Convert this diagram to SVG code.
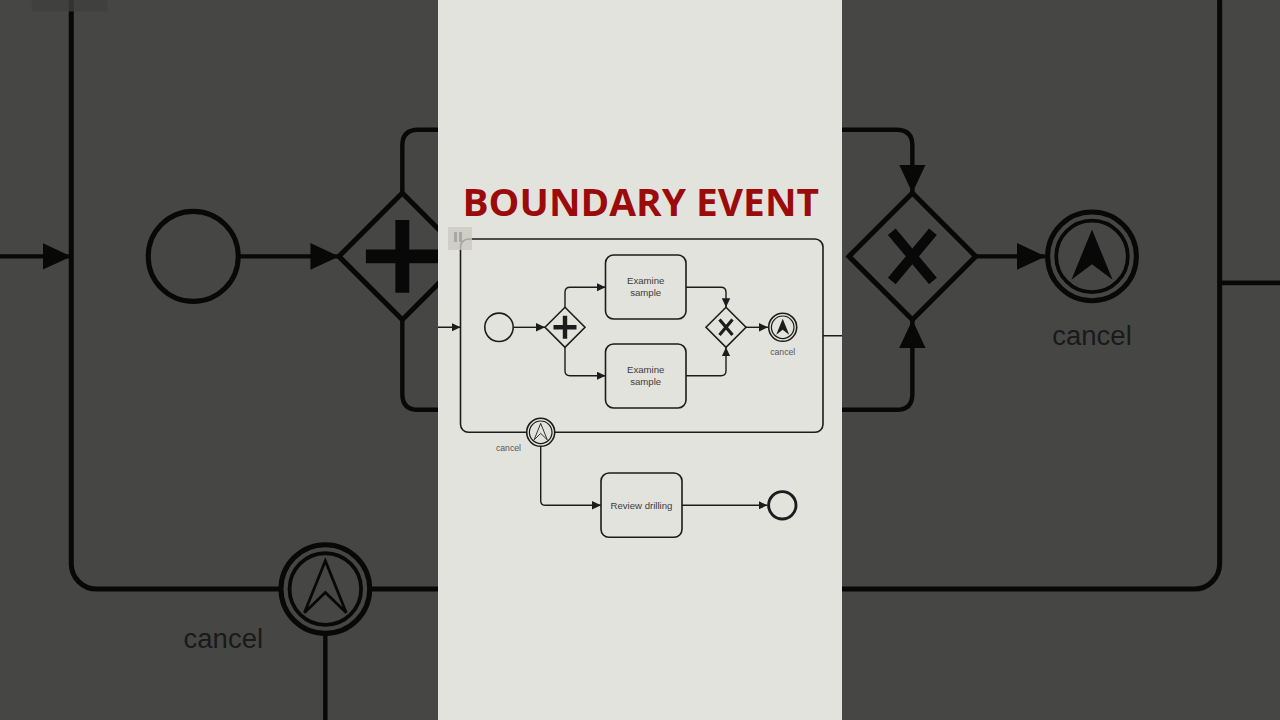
<svg xmlns="http://www.w3.org/2000/svg" xmlns:xlink="http://www.w3.org/1999/xlink" width="1280" height="720" viewBox="0 0 1280 720">
<style>
.ln{fill:none;stroke:#1c1c1c;stroke-width:1.5}
.cn{fill:none;stroke:#1c1c1c;stroke-width:1.4;marker-end:url(#arr)}
.sh{fill:#e3e3de;stroke:#1c1c1c;stroke-width:1.6}
.tl{font-family:"Liberation Sans",Arial,sans-serif;font-size:9.6px;fill:#3c3c3c;text-anchor:middle}
.lb{font-family:"Liberation Sans",Arial,sans-serif;font-size:8.7px;fill:#555;text-anchor:middle}
</style>
<defs>
<marker id="arr" markerUnits="userSpaceOnUse" markerWidth="11" markerHeight="10" refX="9" refY="4.2" orient="auto">
<path d="M0,0 L9,4.2 L0,8.4 Z" fill="#1c1c1c"/>
</marker>
<clipPath id="panel"><rect x="438" y="0" width="404" height="720"/></clipPath>
</defs>
<rect x="0" y="0" width="1280" height="720" fill="#e3e3de"/>
<use xlink:href="#diagram" href="#diagram" transform="matrix(3.168,0,0,3.168,-1387.6,-780.5)"/>
<rect x="0" y="0" width="1280" height="720" fill="#000" opacity="0.69"/>
<rect x="438" y="0" width="404" height="720" fill="#e3e3de"/>
<text x="462.5" y="215.7" textLength="356.5" lengthAdjust="spacingAndGlyphs" font-family="'Open Sans','Liberation Sans',sans-serif" font-weight="bold" font-size="38" fill="#9b0b0b">BOUNDARY EVENT</text>
<g clip-path="url(#panel)">
<g id="diagram">
<g id="subprocess"><rect class="sh" x="460.5" y="239" width="362.5" height="193.3" rx="8"/></g>
<g id="toolicon"><rect x="448" y="227" width="24" height="23" fill="#c9c9c0" opacity="0.8"/><rect x="454" y="232" width="3" height="10" fill="#a9a9a0"/><rect x="459" y="232" width="3" height="10" fill="#a9a9a0"/></g>
<g id="connectors">
<path class="cn" d="M420,327.3 H460.5"/>
<path class="ln" d="M823,335.7 H900"/>
<path class="cn" d="M513.5,327.3 H545"/>
<path class="cn" d="M565,307.3 V292.3 Q565,287.3 570,287.3 H605.5"/>
<path class="cn" d="M565,347.3 V370.7 Q565,375.7 570,375.7 H605.5"/>
<path class="cn" d="M686,287.3 H721 Q726,287.3 726,292.3 V307.3"/>
<path class="cn" d="M686,375.7 H721 Q726,375.7 726,370.7 V347.3"/>
<path class="cn" d="M746,327.3 H768"/>
<path class="cn" d="M540.7,447 V500.7 Q540.7,505.3 545.7,505.3 H601"/>
<path class="cn" d="M682,505.3 H767.5"/>
</g>
<g id="start"><circle class="sh" cx="499" cy="327.3" r="14.2" stroke-width="1.5"/></g>
<g id="fork"><path class="sh" d="M565,307.3 L585,327.3 L565,347.3 L545,327.3 Z"/><path d="M553.5,327.3 H576.5 M565,315.8 V338.8" stroke="#1c1c1c" stroke-width="4.4" fill="none"/></g>
<g id="task1"><rect class="sh" x="605.5" y="255" width="80.5" height="64" rx="8"/><text class="tl" x="645.7" y="284.4">Examine</text><text class="tl" x="645.7" y="295.8">sample</text></g>
<g id="task2"><rect class="sh" x="605.5" y="344" width="80.5" height="64" rx="8"/><text class="tl" x="645.7" y="373.4">Examine</text><text class="tl" x="645.7" y="384.8">sample</text></g>
<g id="join"><path class="sh" d="M726,307.3 L746,327.3 L726,347.3 L706,327.3 Z"/><path d="M719.5,319.5 L732.5,335.1 M732.5,319.5 L719.5,335.1" stroke="#1c1c1c" stroke-width="3.2" fill="none"/></g>
<g id="endcancel"><circle class="sh" cx="782.7" cy="327.3" r="14" stroke-width="1.3"/><circle cx="782.7" cy="327.3" r="11.3" fill="none" stroke="#1c1c1c" stroke-width="1.2"/><path d="M782.7,318.8 L789.2,334.7 L782.7,329.8 L776.2,334.7 Z" fill="#1c1c1c"/><text class="lb" x="782.7" y="355.2">cancel</text></g>
<g id="boundary"><circle class="sh" cx="540.7" cy="432.3" r="14" stroke-width="1.3"/><circle cx="540.7" cy="432.3" r="11.3" fill="none" stroke="#1c1c1c" stroke-width="1.2"/><path d="M540.7,423.4 L547.3,439.8 L540.7,433.4 L534.1,439.8 Z" fill="none" stroke="#1c1c1c" stroke-width="0.9" stroke-linejoin="miter"/><text class="lb" x="508.5" y="450.8">cancel</text></g>
<g id="review"><rect class="sh" x="601" y="473" width="81" height="64.3" rx="8"/><text class="tl" x="641.5" y="508.5">Review drilling</text></g>
<g id="end"><circle cx="782.3" cy="505.3" r="13.7" fill="#e3e3de" stroke="#1c1c1c" stroke-width="2.9"/></g>
</g>
</g>
</svg>
